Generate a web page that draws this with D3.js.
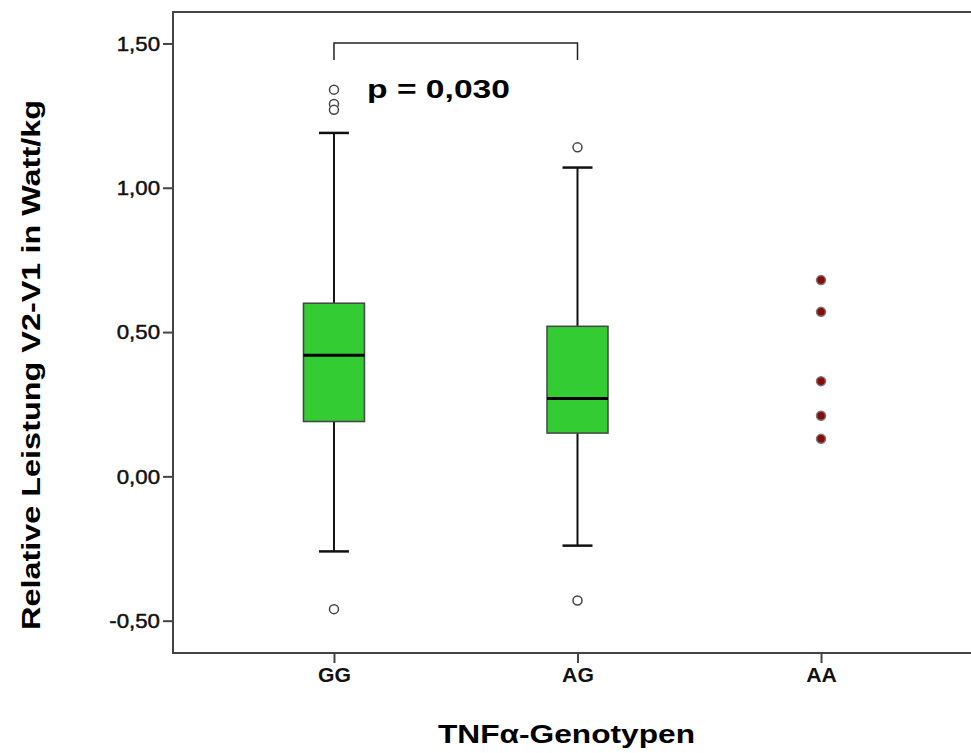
<!DOCTYPE html>
<html>
<head>
<meta charset="utf-8">
<script src="https://cdn.jsdelivr.net/npm/d3@7"></script>
<style>
  body { margin: 0; background: #fff; }
  svg { display: block; font-family: "Liberation Sans", Arial, sans-serif; }
</style>
</head>
<body>
<div id="chart"></div>
<script>
// genotype groups
const genotypes = ["GG", "AG", "AA"];
// box statistics per group (AA has no box, only extremes)
const boxQ1 = [0.19, 0.15, null];
const boxMedian = [0.42, 0.27, null];
const boxQ3 = [0.60, 0.52, null];
const whiskerLow = [-0.26, -0.24, null];
const whiskerHigh = [1.19, 1.07, null];
// outliers (open circles) per group
const outliersGG = [1.34, 1.29, 1.27, -0.46];
const outliersAG = [1.14, -0.43];
// extreme values (filled markers) for AA
const extremesAA = [0.68, 0.57, 0.33, 0.21, 0.13];

const yTicks = [-0.5, 0, 0.5, 1.0, 1.5];
const yTickLabels = ["-0,50", "0,00", "0,50", "1,00", "1,50"];

const pText = "p = 0,030";

const width = 971, height = 753;
const plot = { left: 173, top: 12, right: 982, bottom: 653 };

const svg = d3.select("#chart").append("svg")
  .attr("width", width)
  .attr("height", height);

const x = d3.scalePoint()
  .domain(genotypes)
  .range([plot.left, plot.right])
  .padding(0.661);

const y = d3.scaleLinear()
  .domain([-0.612, 1.609])
  .range([plot.bottom, plot.top]);

// frame
svg.append("path")
  .attr("d", `M${plot.right},${plot.top}H${plot.left}V${plot.bottom}H${plot.right}`)
  .attr("fill", "none")
  .attr("stroke", "#444")
  .attr("stroke-width", 2);

// widen text a bit, the original font runs wider than Arial
function stretch(sel, factor) {
  sel.each(function () {
    const w = this.getComputedTextLength();
    d3.select(this)
      .attr("textLength", w * factor)
      .attr("lengthAdjust", "spacingAndGlyphs");
  });
}

// y axis
const yAxis = svg.append("g")
  .attr("transform", `translate(${plot.left},0)`)
  .call(d3.axisLeft(y).tickValues(yTicks).tickSize(10).tickPadding(3)
    .tickFormat((d, i) => yTickLabels[i]));
yAxis.select(".domain").remove();
yAxis.selectAll("line").attr("stroke", "#444").attr("stroke-width", 2);
yAxis.selectAll("text")
  .attr("font-size", 21)
  .attr("fill", "#111")
  .attr("stroke", "#111")
  .attr("stroke-width", 0.5)
  .attr("font-family", "Liberation Sans, Arial, sans-serif")
  .call(stretch, 1.06);

// x axis
const xAxis = svg.append("g")
  .attr("transform", `translate(0,${plot.bottom})`)
  .call(d3.axisBottom(x).tickSize(10).tickPadding(5));
xAxis.select(".domain").remove();
xAxis.selectAll("line").attr("stroke", "#444").attr("stroke-width", 2);
xAxis.selectAll("text")
  .attr("font-size", 20)
  .attr("font-weight", "bold")
  .attr("fill", "#111")
  .attr("font-family", "Liberation Sans, Arial, sans-serif")
  .call(stretch, 1.06);

// box plots
const boxes = genotypes.map((g, i) => ({
  g, q1: boxQ1[i], med: boxMedian[i], q3: boxQ3[i], lo: whiskerLow[i], hi: whiskerHigh[i]
})).filter(d => d.q1 !== null);

const boxW = 61, capW = 30;

const bg = svg.selectAll(".box")
  .data(boxes)
  .enter()
  .append("g")
  .attr("class", "box");

bg.append("line")
  .attr("x1", d => x(d.g)).attr("x2", d => x(d.g))
  .attr("y1", d => y(d.hi)).attr("y2", d => y(d.q3))
  .attr("stroke", "#111").attr("stroke-width", 2);
bg.append("line")
  .attr("x1", d => x(d.g)).attr("x2", d => x(d.g))
  .attr("y1", d => y(d.q1)).attr("y2", d => y(d.lo))
  .attr("stroke", "#111").attr("stroke-width", 2);
bg.append("line")
  .attr("x1", d => x(d.g) - capW / 2).attr("x2", d => x(d.g) + capW / 2)
  .attr("y1", d => y(d.hi)).attr("y2", d => y(d.hi))
  .attr("stroke", "#111").attr("stroke-width", 2.5);
bg.append("line")
  .attr("x1", d => x(d.g) - capW / 2).attr("x2", d => x(d.g) + capW / 2)
  .attr("y1", d => y(d.lo)).attr("y2", d => y(d.lo))
  .attr("stroke", "#111").attr("stroke-width", 2.5);
bg.append("rect")
  .attr("x", d => x(d.g) - boxW / 2)
  .attr("y", d => y(d.q3))
  .attr("width", boxW)
  .attr("height", d => y(d.q1) - y(d.q3))
  .attr("fill", "#33cc33")
  .attr("stroke", "#444")
  .attr("stroke-width", 1.5);
bg.append("line")
  .attr("x1", d => x(d.g) - boxW / 2).attr("x2", d => x(d.g) + boxW / 2)
  .attr("y1", d => y(d.med)).attr("y2", d => y(d.med))
  .attr("stroke", "#000").attr("stroke-width", 3);

// outliers
const outliers = [
  ...outliersGG.map(v => ({ g: "GG", v })),
  ...outliersAG.map(v => ({ g: "AG", v }))
];
svg.selectAll(".outlier")
  .data(outliers)
  .enter()
  .append("circle")
  .attr("class", "outlier")
  .attr("cx", d => x(d.g))
  .attr("cy", d => y(d.v))
  .attr("r", 4.5)
  .attr("fill", "#fff")
  .attr("stroke", "#444")
  .attr("stroke-width", 1.5);

// extremes for AA
svg.selectAll(".extreme")
  .data(extremesAA)
  .enter()
  .append("circle")
  .attr("class", "extreme")
  .attr("cx", x("AA"))
  .attr("cy", d => y(d))
  .attr("r", 4.5)
  .attr("fill", "#8b0a0a")
  .attr("stroke", "#777")
  .attr("stroke-width", 1.5);

// significance bracket
const brTop = 43, brBottom = 60;
svg.append("path")
  .attr("d", `M${x("GG")},${brBottom}V${brTop}H${x("AG")}V${brBottom}`)
  .attr("fill", "none")
  .attr("stroke", "#222")
  .attr("stroke-width", 1.5);

svg.append("text")
  .attr("x", 367)
  .attr("y", 98)
  .attr("font-size", 26)
  .attr("font-weight", "bold")
  .attr("fill", "#000")
  .attr("textLength", 143)
  .attr("lengthAdjust", "spacingAndGlyphs")
  .text(pText);

// axis titles
svg.append("text")
  .attr("x", 438)
  .attr("y", 743)
  .attr("font-size", 26)
  .attr("font-weight", "bold")
  .attr("fill", "#000")
  .attr("textLength", 257)
  .attr("lengthAdjust", "spacingAndGlyphs")
  .text("TNFα-Genotypen");

svg.append("text")
  .attr("transform", "translate(40,630) rotate(-90)")
  .attr("font-size", 26)
  .attr("font-weight", "bold")
  .attr("fill", "#000")
  .attr("textLength", 530)
  .attr("lengthAdjust", "spacingAndGlyphs")
  .text("Relative Leistung V2-V1 in Watt/kg");
</script>
</body>
</html>
